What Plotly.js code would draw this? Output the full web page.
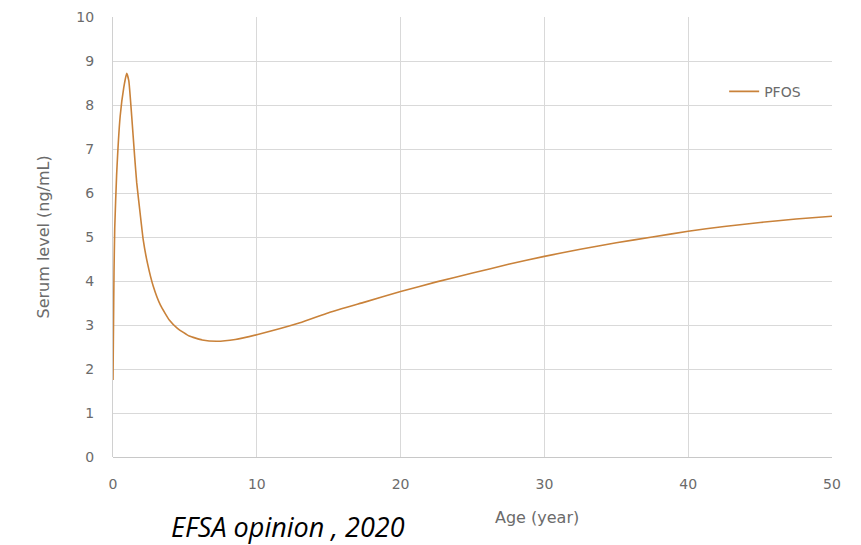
<!DOCTYPE html>
<html>
<head>
<meta charset="utf-8">
<script src="https://cdn.plot.ly/plotly-3.0.1.min.js"></script>
<style>html,body{margin:0;padding:0;background:#fff;}#chart{width:861px;height:545px;}</style>
</head>
<body>
<div id="chart"></div>
<script>
const seriesName = "PFOS";
const ageYears = [0, 0.03, 0.07, 0.12, 0.25, 0.5, 0.75, 0.95, 1.1, 1.3, 1.5, 1.65, 1.9, 2.1, 2.4, 2.8, 3.3, 3.9, 4.5, 5.3, 6.2, 7.2, 8.5, 10, 13, 15, 17.5, 20, 22.5, 25, 27.5, 30, 32.5, 35, 37.5, 40, 42.5, 45, 47.5, 50];
const serumLevel = [1.75, 2.8, 4.2, 5.2, 6.4, 7.75, 8.4, 8.72, 8.55, 7.75, 6.85, 6.23, 5.5, 4.94, 4.4, 3.88, 3.45, 3.12, 2.92, 2.75, 2.66, 2.63, 2.67, 2.78, 3.05, 3.28, 3.52, 3.76, 3.98, 4.18, 4.38, 4.56, 4.72, 4.87, 5.0, 5.13, 5.24, 5.33, 5.41, 5.47];
const xTicks = [0, 10, 20, 30, 40, 50];
const yTicks = [0, 1, 2, 3, 4, 5, 6, 7, 8, 9, 10];
const xTitle = "Age (year)";
const yTitle = "Serum level (ng/mL)";
const sourceNote = "EFSA opinion , 2020";

const tickFont = {family: "DejaVu Sans, Verdana, sans-serif", size: 14, color: "#6b6b6b"};
const titleFont = {family: "DejaVu Sans, Verdana, sans-serif", size: 16, color: "#6b6b6b"};

const trace = {
  x: ageYears, y: serumLevel, type: "scatter", mode: "lines", name: seriesName,
  line: {color: "#c9823a", width: 1.6, shape: "spline", smoothing: 0.4}
};

const layout = {
  width: 861, height: 545,
  margin: {l: 113, r: 29, t: 17, b: 88},
  paper_bgcolor: "#ffffff", plot_bgcolor: "#ffffff",
  showlegend: true,
  legend: {x: 0.85, y: 0.83, xanchor: "left", yanchor: "middle", font: tickFont, bgcolor: "rgba(0,0,0,0)"},
  xaxis: {
    range: [0, 50], tickvals: xTicks, ticktext: xTicks.map(String),
    showgrid: true, gridcolor: "#d9d9d9", gridwidth: 1,
    zeroline: false, showline: false, ticks: "", tickfont: tickFont,
    ticklabelstandoff: 17, fixedrange: true
  },
  yaxis: {
    range: [0, 10], tickvals: yTicks, ticktext: yTicks.map(String),
    showgrid: true, gridcolor: "#d9d9d9", gridwidth: 1,
    zeroline: true, zerolinecolor: "#c8c8c8", zerolinewidth: 1,
    showline: true, linecolor: "#d0d0d0", linewidth: 1,
    ticks: "", tickfont: tickFont, ticklabelstandoff: 15, fixedrange: true
  },
  annotations: [
    {text: xTitle, xref: "paper", yref: "paper", x: (537 - 113) / 719, y: (457.5 - 518) / 440,
     xanchor: "center", yanchor: "middle", showarrow: false, font: titleFont},
    {text: yTitle, xref: "paper", yref: "paper", x: (43 - 113) / 719, y: (457.5 - 238) / 440,
     xanchor: "center", yanchor: "middle", textangle: -90, showarrow: false, font: titleFont},
    {text: "<i>" + sourceNote + "</i>", xref: "paper", yref: "paper", x: (288 - 113) / 719, y: (457.5 - 527) / 440,
     xanchor: "center", yanchor: "middle", showarrow: false,
     font: {family: "Open Sans, Noto Sans, sans-serif", size: 27, color: "#000000"}}
  ]
};

Plotly.newPlot("chart", [trace], layout, {displayModeBar: false, staticPlot: true});
</script>
</body>
</html>
